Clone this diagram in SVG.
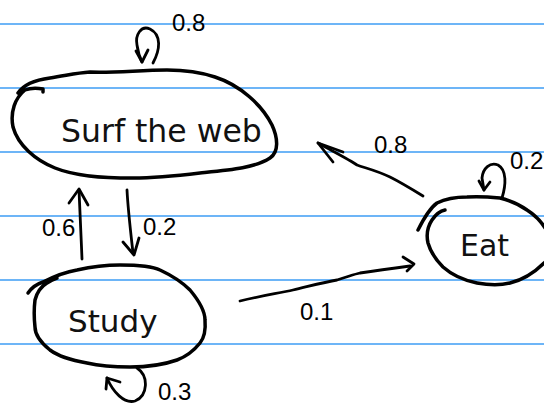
<svg xmlns="http://www.w3.org/2000/svg" width="544" height="404" viewBox="0 0 544 404">
  <style>
    .rule { stroke: #3d9cf5; stroke-width: 1.6; }
    .ink { fill: none; stroke: #000; stroke-width: 3.5; stroke-linecap: round; stroke-linejoin: round; }
    .edge { fill: none; stroke: #000; stroke-width: 2.8; stroke-linecap: round; stroke-linejoin: round; }
    .label { font-family: "DejaVu Sans", sans-serif; fill: #111; }
    .num { font-family: "Liberation Sans", Arial, sans-serif; font-size: 24px; fill: #000; }
  </style>
  <rect x="0" y="0" width="544" height="404" fill="#fff"/>
  <g id="paper-lines">
    <line class="rule" x1="0" y1="24" x2="544" y2="24"/>
    <line class="rule" x1="0" y1="88" x2="544" y2="88"/>
    <line class="rule" x1="0" y1="152" x2="544" y2="152"/>
    <line class="rule" x1="0" y1="216" x2="544" y2="216"/>
    <line class="rule" x1="0" y1="280" x2="544" y2="280"/>
    <line class="rule" x1="0" y1="344" x2="544" y2="344"/>
  </g>
  <g id="node-surf">
    <path class="ink" d="M18,93 C24,84 35,80 50,78 C65,76 75,73 90,72 C115,73 140,70 167,70 C185,70 200,72 215,77 C240,85 262,105 272,125 C278,138 279,152 270,158 C255,168 230,170 200,173 C175,176 155,178 133,178 C100,178 75,176 55,168 C35,160 18,145 13,127 C10,112 15,98 25,90 C30,88 38,88 43,89 L43,92"/>
    <text class="label" x="61" y="142" font-size="31.5">Surf the web</text>
  </g>
  <g id="node-study">
    <path class="ink" d="M28,293 C32,287 37,284 43,282 C55,276 65,272 77,270 C95,266 105,265 120,265 C140,265 152,266 160,270 C175,277 185,285 190,290 C200,302 205,312 205,320 C206,332 204,338 200,343 C192,353 185,357 177,360 C160,366 145,367 130,367 C112,367 100,366 87,363 C70,360 58,356 50,350 C40,342 35,335 35,327 C34,318 34,308 35,300 C37,292 42,286 47,283 C50,281 54,279 57,278"/>
    <text class="label" x="68" y="332" font-size="31">Study</text>
  </g>
  <g id="node-eat">
    <path class="ink" d="M418,230 C424,218 430,208 437,203 C447,198 457,197 467,197 C480,196 490,197 500,198 C512,201 520,205 527,210 C538,217 548,228 552,245 C553,255 550,258 544,263 C535,272 522,280 510,283 C498,286 488,285 477,283 C462,280 452,275 443,267 C434,258 430,250 428,243 C426,234 428,226 432,220 C436,214 440,211 445,210"/>
    <text class="label" x="460" y="256" font-size="30">Eat</text>
  </g>
  <g id="connectors">
    <g id="surf-surf">
      <path class="edge" d="M153,63 C160,50 162,35 150,29 C141,25 135,35 137,45 C138,52 140,58 142,62"/>
      <polyline class="edge" points="136,51 142,62 148,50"/>
      <text class="num" x="172" y="31">0.8</text>
    </g>
    <g id="surf-study">
      <path class="edge" d="M127,190 C128,210 131,235 133,253"/>
      <polyline class="edge" points="123,242 134,255 139,238"/>
      <text class="num" x="143" y="235">0.2</text>
    </g>
    <g id="study-surf">
      <path class="edge" d="M82,259 C81,235 80,210 79,190"/>
      <polyline class="edge" points="69,203 79,189 88,205"/>
      <text class="num" x="42" y="236">0.6</text>
    </g>
    <g id="eat-surf">
      <path class="edge" d="M423,196 C410,188 400,182 390,177 C375,170 365,168 357,165 C350,160 340,155 318,143"/>
      <polyline class="edge" points="343,152 318,143 333,162"/>
      <text class="num" x="374" y="153">0.8</text>
    </g>
    <g id="study-eat">
      <path class="edge" d="M240,301 C260,296 280,293 293,290 C310,286 325,282 337,280 C350,276 355,274 360,273 C380,270 395,268 410,266"/>
      <polyline class="edge" points="403,257 414,264 407,271"/>
      <text class="num" x="300" y="320">0.1</text>
    </g>
    <g id="eat-eat">
      <path class="edge" d="M502,198 C506,185 507,170 498,165 C490,162 483,168 482,178 L484,190"/>
      <polyline class="edge" points="479,181 484,190 490,182"/>
      <text class="num" x="510" y="169" font-size="23">0.2</text>
    </g>
    <g id="study-study">
      <path class="edge" d="M137,368 C149,376 148,396 135,401 C124,404 113,392 107,378"/>
      <polyline class="edge" points="120,382 107,378 106,389"/>
      <text class="num" x="158" y="400">0.3</text>
    </g>
  </g>
</svg>
